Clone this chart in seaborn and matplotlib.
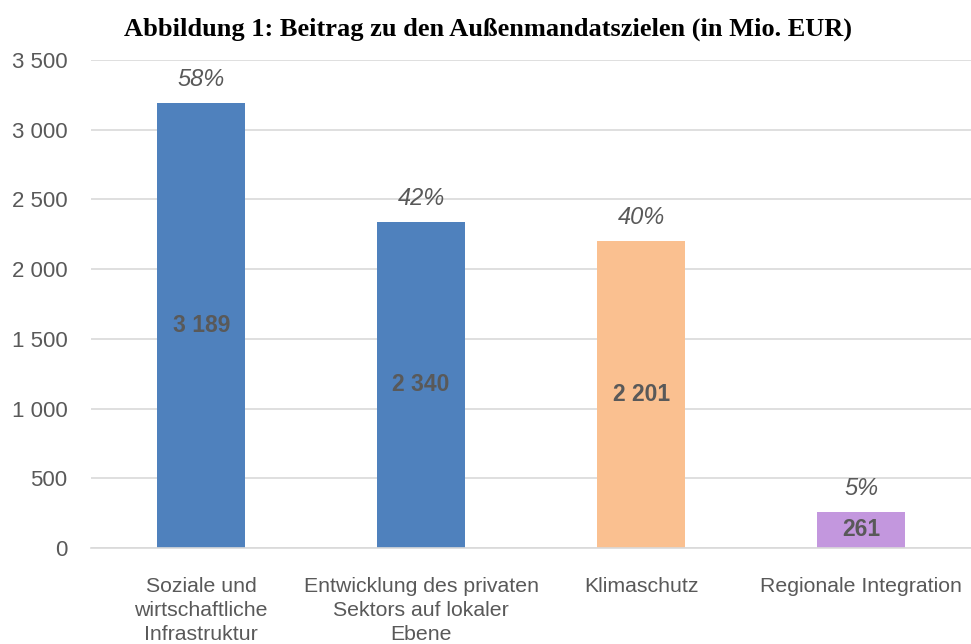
import matplotlib
matplotlib.use("Agg")
import matplotlib.pyplot as plt
import seaborn as sns
import pandas as pd

categories = ["Soziale und\nwirtschaftliche\nInfrastruktur",
              "Entwicklung des privaten\nSektors auf lokaler\nEbene",
              "Klimaschutz",
              "Regionale Integration"]
values = [3189, 2340, 2201, 261]
value_labels = ["3 189", "2 340", "2 201", "261"]
pct_labels = ["58%", "42%", "40%", "5%"]
colors = ["#4F81BD", "#4F81BD", "#FAC090", "#C397DE"]
yticks = [0, 500, 1000, 1500, 2000, 2500, 3000, 3500]
ytick_labels = ["0", "500", "1 000", "1 500", "2 000", "2 500", "3 000", "3 500"]
title = "Abbildung 1: Beitrag zu den Außenmandatszielen (in Mio. EUR)"

sns.set_theme(style="white")
plt.rcParams['font.family'] = ['Liberation Sans', 'DejaVu Sans']

df = pd.DataFrame({"cat": categories, "val": values})
fig = plt.figure(figsize=(9.71, 6.44), dpi=100)
ax = fig.add_axes([0.094, 0.149, 0.906, 0.758])

sns.barplot(data=df, x="cat", y="val", hue="cat", palette=colors, legend=False,
            width=0.4, ax=ax, saturation=1, edgecolor="none")

ax.set_ylim(0, 3500)
ax.set_xlim(-0.5, 3.5)
ax.set_yticks(yticks)
ax.set_yticklabels(ytick_labels)
ax.yaxis.grid(True, color="#D9D9D9", linewidth=1.2)
ax.set_axisbelow(True)
for s in ["left", "right", "top"]:
    ax.spines[s].set_visible(False)
ax.spines["bottom"].set_color("#D9D9D9")
ax.spines["bottom"].set_linewidth(1.2)
ax.tick_params(axis="y", length=0, labelsize=16, colors="#595959", pad=17)
ax.tick_params(axis="x", length=0, labelsize=15.3, colors="#595959", pad=21)
ax.set_xlabel("")
ax.set_ylabel("")
for lbl in ax.get_xticklabels():
    lbl.set_verticalalignment("top")
    lbl.set_linespacing(1.32)

for i, (v, vl, pl) in enumerate(zip(values, value_labels, pct_labels)):
    ax.text(i, v / 2, vl, ha="center", va="center", fontsize=16.5,
            fontweight="bold", color="#595959")
    ax.text(i, v + 85, pl, ha="center", va="bottom", fontsize=17,
            style="italic", color="#595959")

fig.text(0.503, 0.955, title, ha="center", va="center", fontsize=19,
         fontweight="bold", family=["Liberation Serif", "DejaVu Serif"], color="black")

fig.savefig("out.png", dpi=100)
